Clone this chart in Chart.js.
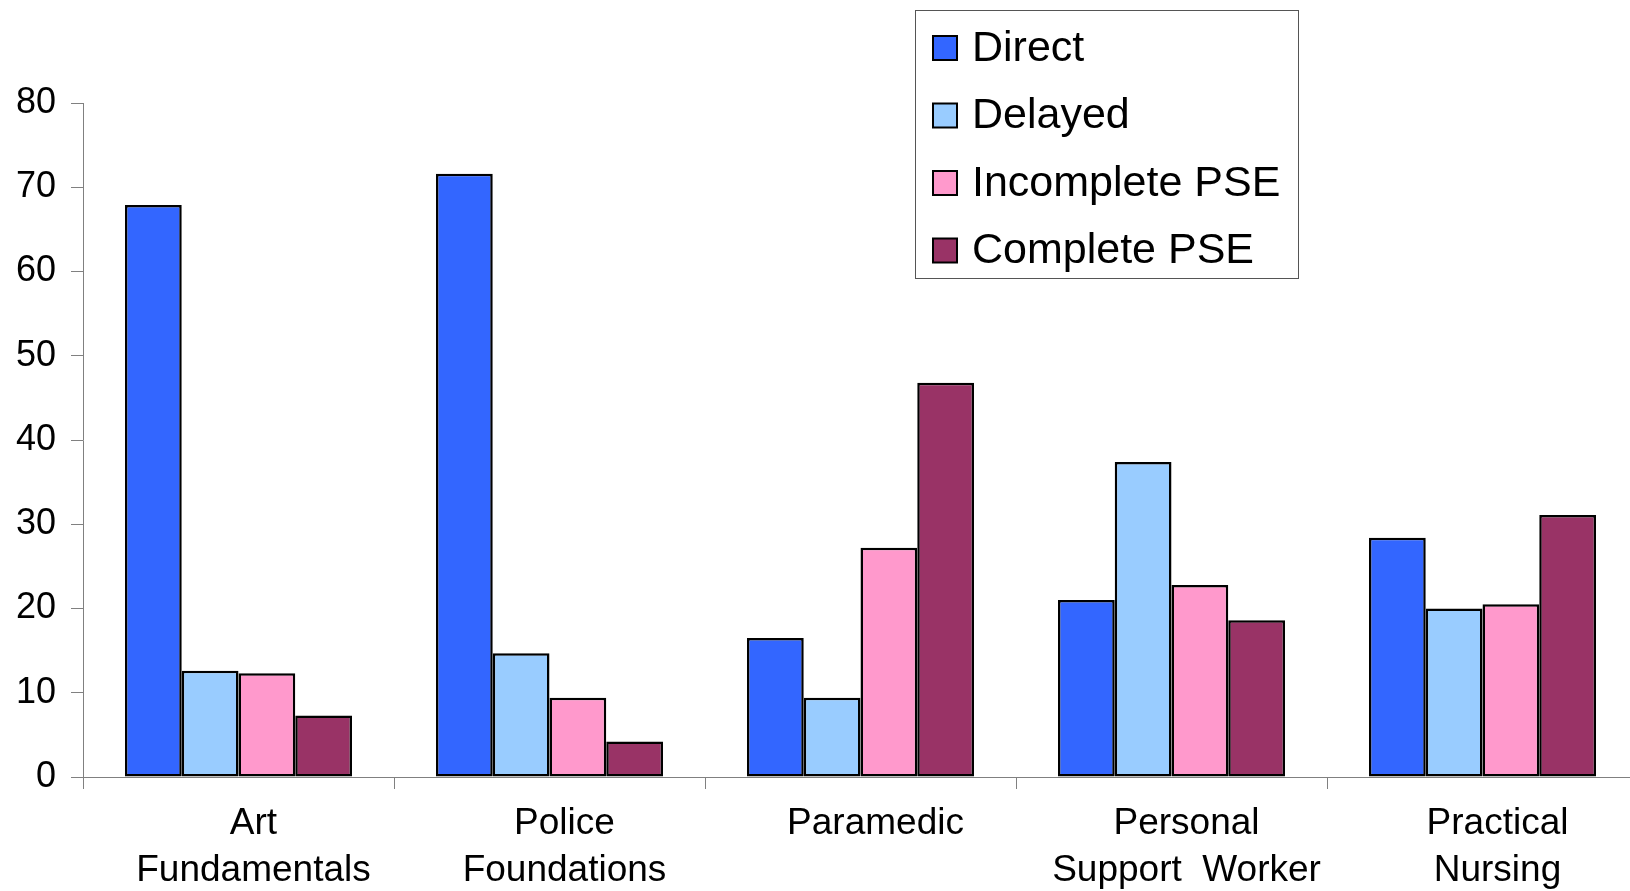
<!DOCTYPE html>
<html>
<head>
<meta charset="utf-8">
<script src="https://cdn.jsdelivr.net/npm/chart.js@4"></script>
<style>
  html, body { margin: 0; padding: 0; overflow: hidden; background: #fff; }
  #wrap { position: absolute; left: 0; top: 0; width: 1640px; height: 891px; }
</style>
</head>
<body>
<div id="wrap"><canvas id="chart" width="1640" height="891"></canvas></div>
<script>
// Chart Data
const categories = [
  ["Art", "Fundamentals"],
  ["Police", "Foundations"],
  "Paramedic",
  ["Personal", "Support  Worker"],
  ["Practical", "Nursing"],
];
const seriesNames = ["Direct", "Delayed", "Incomplete PSE", "Complete PSE"];
const direct = [67.9, 71.6, 16.5, 21.0, 28.4];
const delayed = [12.6, 14.7, 9.4, 37.4, 20.0];
const incompletePSE = [12.3, 9.4, 27.2, 22.8, 20.5];
const completePSE = [7.3, 4.2, 46.8, 18.6, 31.1];
const yMin = 0;
const yMax = 80;
const yStep = 10;

const seriesColors = ["#3366ff", "#99ccff", "#ff99cc", "#993366"];
const seriesValues = [direct, delayed, incompletePSE, completePSE];

// Boxed legend in the top right, drawn on the canvas
const boxLegend = {
  id: "boxLegend",
  afterDraw(chart) {
    const ctx = chart.ctx;
    const left = 915, top = 10, width = 383, height = 268;
    ctx.save();
    ctx.fillStyle = "#fff";
    ctx.fillRect(left, top, width, height);
    ctx.strokeStyle = "#555";
    ctx.lineWidth = 1;
    ctx.strokeRect(left + 0.5, top + 0.5, width, height);

    ctx.font = "43px 'Liberation Sans', Arial, sans-serif";
    ctx.textBaseline = "middle";
    seriesNames.forEach((name, i) => {
      const cy = 48 + i * 67.5;
      ctx.fillStyle = seriesColors[i];
      ctx.fillRect(933, cy - 12, 24, 24);
      ctx.strokeStyle = "#000";
      ctx.lineWidth = 2;
      ctx.strokeRect(933, cy - 12, 24, 24);
      ctx.fillStyle = "#000";
      ctx.fillText(name, 972, cy + 1);
    });
    ctx.restore();
  },
};

new Chart(document.getElementById("chart"), {
  type: "bar",
  data: {
    labels: categories,
    datasets: seriesNames.map((name, i) => ({
      label: name,
      data: seriesValues[i],
      backgroundColor: seriesColors[i],
      borderColor: "#000",
      borderWidth: 2.5,
      borderSkipped: false,
      categoryPercentage: 0.73,
      barPercentage: 1.0,
    })),
  },
  options: {
    responsive: false,
    animation: false,
    devicePixelRatio: 1,
    layout: { padding: { top: 103, right: 2, left: 0, bottom: 0 } },
    plugins: {
      legend: { display: false },
      tooltip: { enabled: false },
    },
    scales: {
      x: {
        afterFit(scale) { scale.height = 114; },
        grid: {
          offset: true,
          drawOnChartArea: false,
          drawTicks: true,
          tickLength: 12,
          color: "#808080",
        },
        border: { display: true, color: "#808080", width: 1 },
        ticks: {
          color: "#000",
          padding: 11,
          labelOffset: 15,
          maxRotation: 0,
          autoSkip: false,
          font: { family: "'Liberation Sans', Arial, sans-serif", size: 37, lineHeight: 1.27 },
        },
      },
      y: {
        min: yMin,
        max: yMax,
        afterFit(scale) { scale.width = 83; },
        grid: {
          drawOnChartArea: false,
          drawTicks: true,
          tickLength: 12,
          color: "#808080",
        },
        border: { display: true, color: "#808080", width: 1 },
        ticks: {
          stepSize: yStep,
          color: "#000",
          padding: 15,
          font: { family: "'Liberation Sans', Arial, sans-serif", size: 36 },
        },
      },
    },
  },
  plugins: [boxLegend],
});
</script>
</body>
</html>
